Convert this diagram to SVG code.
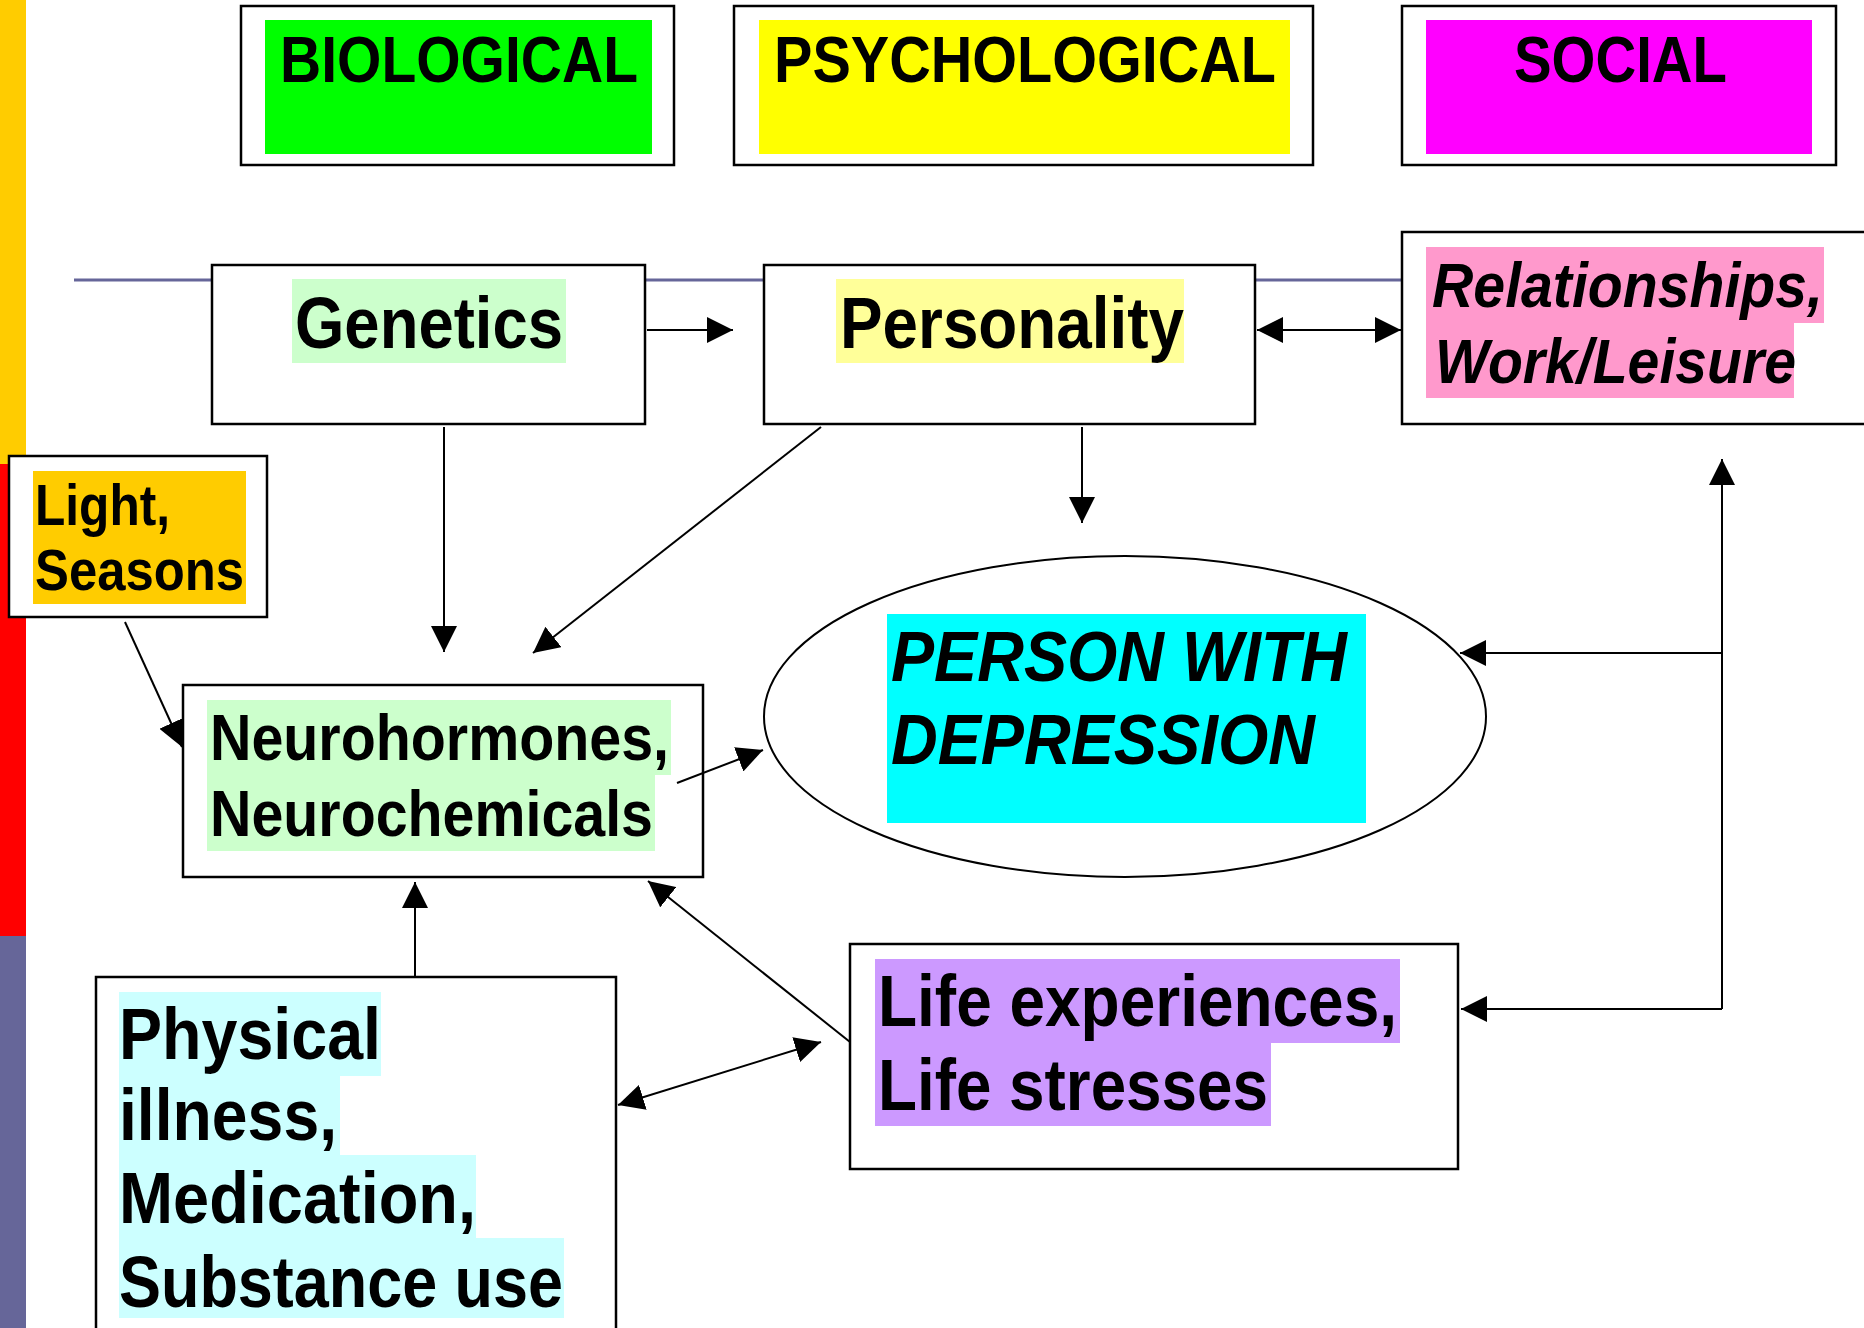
<svg xmlns="http://www.w3.org/2000/svg" width="1864" height="1328" viewBox="0 0 1864 1328">
<defs>
<marker id="ah" markerUnits="userSpaceOnUse" markerWidth="27" markerHeight="26" refX="26" refY="13" orient="auto-start-reverse">
<path d="M0,0 L26,13 L0,26 z" fill="#000"/>
</marker>
</defs>
<style>
.box{fill:#fff;stroke:#000;stroke-width:2.5}
.t{font-family:"Liberation Sans",Arial,sans-serif;font-weight:bold;fill:#000}
.i{font-style:italic}
.c{fill:none;stroke:#000;stroke-width:2}
</style>
<rect width="1864" height="1328" fill="#fff"/>
<g id="sidebar">
<rect x="0" y="0" width="26" height="464" fill="#FFCC00"/>
<rect x="0" y="464" width="26" height="472" fill="#FF0000"/>
<rect x="0" y="936" width="26" height="392" fill="#666699"/>
</g>
<line x1="74" y1="280" x2="1403" y2="280" stroke="#666699" stroke-width="3"/>
<g id="biological">
<rect class="box" x="241" y="6" width="433" height="159"/>
<rect x="265" y="20" width="387" height="134" fill="#00FF00"/>
<text class="t" x="280" y="82" font-size="65" textLength="358" lengthAdjust="spacingAndGlyphs">BIOLOGICAL</text>
</g>
<g id="psychological">
<rect class="box" x="734" y="6" width="579" height="159"/>
<rect x="759" y="20" width="531" height="134" fill="#FFFF00"/>
<text class="t" x="774" y="82" font-size="65" textLength="502" lengthAdjust="spacingAndGlyphs">PSYCHOLOGICAL</text>
</g>
<g id="social">
<rect class="box" x="1402" y="6" width="434" height="159"/>
<rect x="1426" y="20" width="386" height="134" fill="#FF00FF"/>
<text class="t" x="1514" y="82" font-size="65" textLength="213" lengthAdjust="spacingAndGlyphs">SOCIAL</text>
</g>
<g id="genetics">
<rect class="box" x="212" y="265" width="433" height="159"/>
<rect x="292" y="279" width="274" height="84" fill="#CCFFCC"/>
<text class="t" x="295" y="348" font-size="72" textLength="268" lengthAdjust="spacingAndGlyphs">Genetics</text>
</g>
<g id="personality">
<rect class="box" x="764" y="265" width="491" height="159"/>
<rect x="836" y="279" width="348" height="84" fill="#FFFF99"/>
<text class="t" x="840" y="348" font-size="72" textLength="344" lengthAdjust="spacingAndGlyphs">Personality</text>
</g>
<g id="relationships">
<rect class="box" x="1402" y="232" width="470" height="192"/>
<rect x="1426" y="247" width="398" height="76" fill="#FF99CC"/>
<rect x="1426" y="322" width="368" height="76" fill="#FF99CC"/>
<text class="t i" x="1432" y="307" font-size="63" textLength="391" lengthAdjust="spacingAndGlyphs">Relationships,</text>
<text class="t i" x="1435" y="383" font-size="63" textLength="361" lengthAdjust="spacingAndGlyphs">Work/Leisure</text>
</g>
<g id="light">
<rect class="box" x="9" y="456" width="258" height="161"/>
<rect x="33" y="471" width="213" height="133" fill="#FFCC00"/>
<text class="t" x="35" y="525" font-size="58" textLength="135" lengthAdjust="spacingAndGlyphs">Light,</text>
<text class="t" x="35" y="590" font-size="58" textLength="209" lengthAdjust="spacingAndGlyphs">Seasons</text>
</g>
<g id="person">
<ellipse cx="1125" cy="716.5" rx="361" ry="160.5" fill="#fff" stroke="#000" stroke-width="2"/>
<rect x="887" y="614" width="479" height="209" fill="#00FFFF"/>
<text class="t i" x="891" y="681" font-size="71" textLength="456" lengthAdjust="spacingAndGlyphs">PERSON WITH</text>
<text class="t i" x="891" y="764" font-size="71" textLength="424" lengthAdjust="spacingAndGlyphs">DEPRESSION</text>
</g>
<g id="neuro">
<rect class="box" x="183" y="685" width="520" height="192"/>
<rect x="207" y="700" width="464" height="75" fill="#CCFFCC"/>
<rect x="207" y="774" width="448" height="77" fill="#CCFFCC"/>
<text class="t" x="210" y="760" font-size="65" textLength="459" lengthAdjust="spacingAndGlyphs">Neurohormones,</text>
<text class="t" x="210" y="836" font-size="65" textLength="443" lengthAdjust="spacingAndGlyphs">Neurochemicals</text>
</g>
<g id="life">
<rect class="box" x="850" y="944" width="608" height="225"/>
<rect x="875" y="959" width="525" height="84" fill="#CC99FF"/>
<rect x="875" y="1042" width="396" height="84" fill="#CC99FF"/>
<text class="t" x="878" y="1026" font-size="72" textLength="519" lengthAdjust="spacingAndGlyphs">Life experiences,</text>
<text class="t" x="878" y="1110" font-size="72" textLength="390" lengthAdjust="spacingAndGlyphs">Life stresses</text>
</g>
<g id="physical">
<rect class="box" x="96" y="977" width="520" height="400"/>
<rect x="119" y="992" width="262" height="84" fill="#CCFFFF"/>
<rect x="119" y="1075" width="221" height="81" fill="#CCFFFF"/>
<rect x="119" y="1155" width="357" height="84" fill="#CCFFFF"/>
<rect x="119" y="1238" width="445" height="80" fill="#CCFFFF"/>
<text class="t" x="119" y="1059" font-size="72" textLength="262" lengthAdjust="spacingAndGlyphs">Physical</text>
<text class="t" x="119" y="1140" font-size="72" textLength="218" lengthAdjust="spacingAndGlyphs">illness,</text>
<text class="t" x="119" y="1223" font-size="72" textLength="357" lengthAdjust="spacingAndGlyphs">Medication,</text>
<text class="t" x="119" y="1307" font-size="72" textLength="444" lengthAdjust="spacingAndGlyphs">Substance use</text>
</g>
<g id="connectors">
<path class="c" d="M647,330 L733,330" marker-end="url(#ah)"/>
<path class="c" d="M1257,330 L1401,330" marker-start="url(#ah)" marker-end="url(#ah)"/>
<path class="c" d="M444,427 L444,652" marker-end="url(#ah)"/>
<path class="c" d="M821,427 L533,653" marker-end="url(#ah)"/>
<path class="c" d="M1082,427 L1082,523" marker-end="url(#ah)"/>
<path class="c" d="M125,622 L182,747" marker-end="url(#ah)"/>
<path class="c" d="M677,783 L763,750" marker-end="url(#ah)"/>
<path class="c" d="M415,977 L415,882" marker-end="url(#ah)"/>
<path class="c" d="M850,1042 L648,881" marker-end="url(#ah)"/>
<path class="c" d="M618,1105 L821,1042" marker-start="url(#ah)" marker-end="url(#ah)"/>
<path class="c" d="M1722,1009 L1722,459" marker-end="url(#ah)"/>
<path class="c" d="M1722,653 L1460,653" marker-end="url(#ah)"/>
<path class="c" d="M1722,1009 L1461,1009" marker-end="url(#ah)"/>
</g>
</svg>
